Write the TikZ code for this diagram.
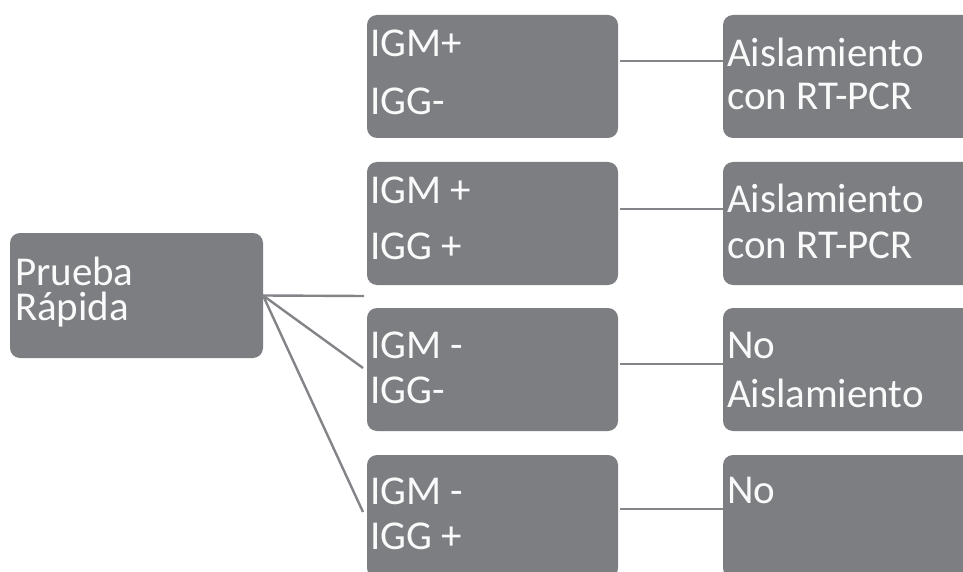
\documentclass[tikz,border=0pt]{standalone}
\usepackage{fontspec}
\setmainfont{Carlito}
\usetikzlibrary{calc}
\definecolor{boxgray}{RGB}{124,126,130}
\definecolor{linegray}{RGB}{130,132,136}
\definecolor{txtwhite}{RGB}{250,250,250}
\begin{document}
\begin{tikzpicture}[x=1pt,y=-1pt,
  boxbase/.style={draw=none, fill=boxgray, rounded corners=10pt, anchor=north west, inner sep=0pt, outer sep=0pt},
  leftbox/.style={boxbase, minimum width=253pt, minimum height=125pt},
  midbox/.style={boxbase, minimum width=251pt, minimum height=123pt},
  rightbox/.style={boxbase, minimum width=252pt, minimum height=123pt},
  lbl/.style={anchor=base west, inner sep=0pt, outer sep=0pt, text=txtwhite, font=\fontsize{41}{41}\selectfont},
  conn/.style={draw=linegray, line width=2.4pt}]
\clip (0,0) rectangle (963,572);
\fill[white] (0,0) rectangle (963,572);
% boxes
\node[leftbox] (P) at (10,233) {};
\node[midbox] (M1) at (367,15) {};
\node[midbox] (M2) at (367,162) {};
\node[midbox] (M3) at (367,308) {};
\node[midbox] (M4) at (367,455) {};
\node[rightbox] (R1) at (723,15) {};
\node[rightbox] (R2) at (723,162) {};
\node[rightbox] (R3) at (723,308) {};
\node[rightbox] (R4) at (723,455) {};
% texts
\node[lbl] (p1) at (15,285) {Prueba};
\node[lbl] (p2) at (15,320) {Rápida};
\node[lbl] (m1a) at (370,57) {IGM+};
\node[lbl] (m1b) at (370,115) {IGG-};
\node[lbl] (m2a) at (370,204) {IGM +};
\node[lbl] (m2b) at (370,259) {IGG +};
\node[lbl] (m3a) at (370,358) {IGM -};
\node[lbl] (m3b) at (370,403) {IGG-};
\node[lbl] (m4a) at (370,504) {IGM -};
\node[lbl] (m4b) at (370,549) {IGG +};
\node[lbl] (r1a) at (727,67) {Aislamiento};
\node[lbl] (r1b) at (727,110) {con RT-PCR};
\node[lbl] (r2a) at (727,212) {Aislamiento};
\node[lbl] (r2b) at (727,258) {con RT-PCR};
\node[lbl] (r3a) at (727,358) {No};
\node[lbl] (r3b) at (727,407) {Aislamiento};
\node[lbl] (r4a) at (727,503) {No};
% free ends of the fan
\coordinate (e1) at (364,296);
\coordinate (e2) at (363,368);
\coordinate (e3) at (363,512);
% connectors
\draw[conn] (P.east) -- (e1);
\draw[conn] (P.east) -- (e2);
\draw[conn] (P.east) -- (e3);
\draw[conn] ($(M1.north east)+(2,46)$) -- ($(R1.north west)+(0,46)$);
\draw[conn] ($(M2.north east)+(2,47)$) -- ($(R2.north west)+(0,47)$);
\draw[conn] ($(M3.north east)+(2,56)$) -- ($(R3.north west)+(0,56)$);
\draw[conn] ($(M4.north east)+(2,54)$) -- ($(R4.north west)+(0,54)$);
\end{tikzpicture}
\end{document}
